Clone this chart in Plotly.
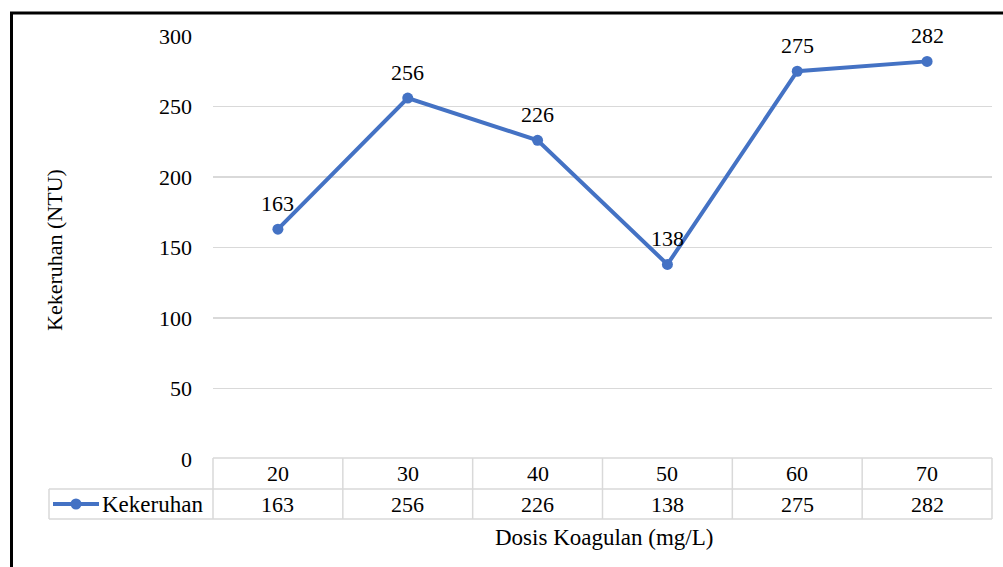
import plotly.graph_objects as go

# ---- data ----
dosis = ["20", "30", "40", "50", "60", "70"]
kekeruhan = [163, 256, 226, 138, 275, 282]
series_name = "Kekeruhan"
y_ticks = [0, 50, 100, 150, 200, 250, 300]
x_title = "Dosis Koagulan (mg/L)"
y_title = "Kekeruhan (NTU)"

W, H = 1003, 567
FONT = "Liberation Serif, Times New Roman, serif"
BLUE = "#4472C4"
GRID = "#D9D9D9"
FS = 22
FS_TXT = 23


def px(x):
    return x / W


def py(y):
    return 1 - y / H


# plot area in pixels
L, R = 213, 992
TOP, BOT = 36, 459

fig = go.Figure()
fig.add_trace(go.Scatter(
    x=list(range(len(dosis))), y=kekeruhan, mode="lines+markers", name=series_name,
    line=dict(color=BLUE, width=4),
    marker=dict(color=BLUE, size=11),
    showlegend=False, cliponaxis=False, hoverinfo="skip",
))

# data labels
for i, yv in enumerate(kekeruhan):
    fig.add_annotation(x=i, y=yv, xref="x", yref="y", text=str(yv), showarrow=False,
                       yshift=26, font=dict(family=FONT, size=FS, color="#000000"))

shapes = []
# outer border (left + top)
shapes.append(dict(type="path", xref="paper", yref="paper",
                   path=f"M {px(11.5)} {py(H+5)} L {px(11.5)} {py(13)} L {px(W+5)} {py(13)}",
                   line=dict(color="#000000", width=3)))

# data table
n = len(dosis)
colw = (R - L) / n
r0, r1, r2 = 458, 489, 519
leg_left = 49
lc = dict(color=GRID, width=1.5)
shapes.append(dict(type="line", xref="paper", yref="paper", x0=px(L), x1=px(R), y0=py(r0), y1=py(r0), line=lc))
shapes.append(dict(type="line", xref="paper", yref="paper", x0=px(leg_left), x1=px(R), y0=py(r1), y1=py(r1), line=lc))
shapes.append(dict(type="line", xref="paper", yref="paper", x0=px(leg_left), x1=px(R), y0=py(r2), y1=py(r2), line=lc))
shapes.append(dict(type="line", xref="paper", yref="paper", x0=px(leg_left), x1=px(leg_left), y0=py(r1), y1=py(r2), line=lc))
for i in range(n + 1):
    xx = L + i * colw
    shapes.append(dict(type="line", xref="paper", yref="paper", x0=px(xx), x1=px(xx), y0=py(r0), y1=py(r2), line=lc))

# legend key inside table
shapes.append(dict(type="line", xref="paper", yref="paper", x0=px(53), x1=px(99), y0=py(504), y1=py(504),
                   line=dict(color=BLUE, width=4)))
shapes.append(dict(type="circle", xref="paper", yref="paper", x0=px(70.5), x1=px(81.5), y0=py(509.5), y1=py(498.5),
                   fillcolor=BLUE, line=dict(color=BLUE, width=0)))

nfont = dict(family=FONT, size=FS, color="#000000")
tfont = dict(family=FONT, size=FS_TXT, color="#000000")
for i, (xv, yv) in enumerate(zip(dosis, kekeruhan)):
    cx = L + (i + 0.5) * colw
    fig.add_annotation(x=px(cx), y=py((r0 + r1) / 2), xref="paper", yref="paper", text=xv,
                       showarrow=False, font=nfont, xanchor="center", yanchor="middle")
    fig.add_annotation(x=px(cx), y=py((r1 + r2) / 2), xref="paper", yref="paper", text=str(yv),
                       showarrow=False, font=nfont, xanchor="center", yanchor="middle")
fig.add_annotation(x=px(100), y=py((r1 + r2) / 2), xref="paper", yref="paper", text=series_name,
                   showarrow=False, font=tfont, xanchor="left", yanchor="middle")

# axis titles
fig.add_annotation(x=px(604), y=py(537), xref="paper", yref="paper", text=x_title,
                   showarrow=False, font=tfont, xanchor="center", yanchor="middle")
fig.add_annotation(x=px(54), y=py(250), xref="paper", yref="paper", text=y_title,
                   showarrow=False, font=nfont, textangle=-90, xanchor="center", yanchor="middle")

fig.update_layout(
    width=W, height=H,
    margin=dict(l=0, r=0, t=0, b=0, pad=0, autoexpand=False),
    paper_bgcolor="white", plot_bgcolor="white",
    shapes=shapes,
    hovermode=False,
    xaxis=dict(domain=[px(L), px(R)], range=[-0.5, n - 0.5], automargin=False, fixedrange=True,
               showticklabels=False, showgrid=False, zeroline=False, showline=False, ticks=""),
    yaxis=dict(domain=[py(BOT), py(TOP)], range=[0, 300], tickvals=y_ticks, automargin=False, fixedrange=True,
               showgrid=True, gridcolor=GRID, gridwidth=1.5, zeroline=False, showline=False,
               ticks="", ticklabelstandoff=20,
               tickfont=dict(family=FONT, size=FS, color="#000000")),
)

fig.write_html("out.html", config={"displayModeBar": False, "staticPlot": True},
               post_script="document.body.style.margin='0';document.body.style.overflow='hidden';")
